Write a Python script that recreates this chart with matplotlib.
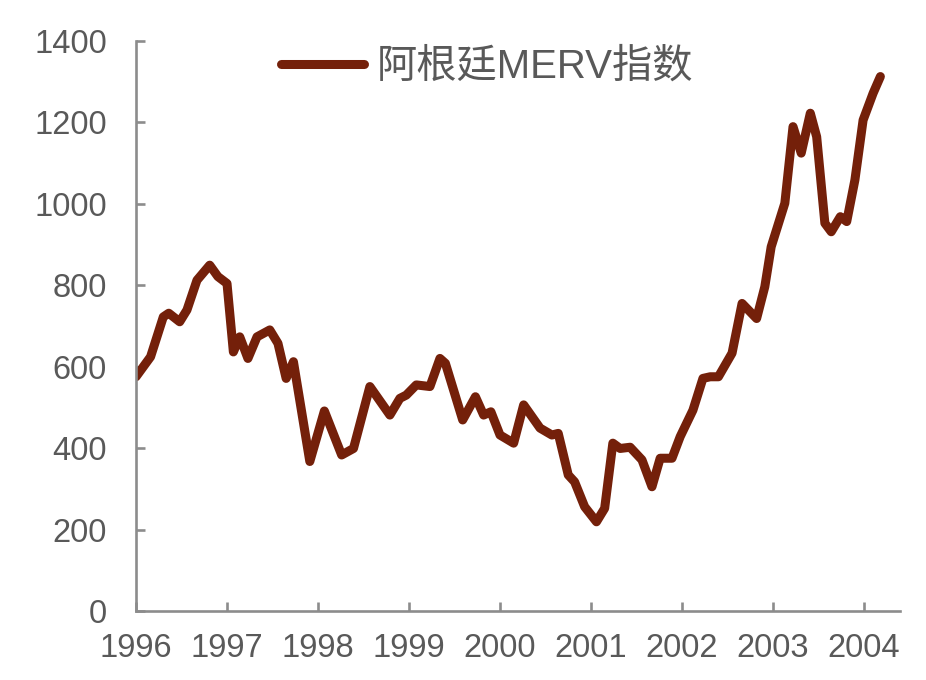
import matplotlib
matplotlib.use("Agg")
import matplotlib.pyplot as plt

# Approximate dates (fractional year) and MERV index values
dates = [1996.00, 1996.16, 1996.30, 1996.36, 1996.48, 1996.56, 1996.67, 1996.81, 1996.90, 1997.00,
         1997.07, 1997.14, 1997.23, 1997.33, 1997.47, 1997.56, 1997.65, 1997.73, 1997.91, 1998.07,
         1998.26, 1998.39, 1998.57, 1998.79, 1998.90, 1998.97, 1999.08, 1999.23, 1999.34, 1999.40,
         1999.59, 1999.73, 1999.82, 1999.90, 2000.00, 2000.15, 2000.26, 2000.44, 2000.57, 2000.64,
         2000.75, 2000.82, 2000.93, 2001.06, 2001.15, 2001.24, 2001.32, 2001.43, 2001.56, 2001.67,
         2001.76, 2001.89, 2001.98, 2002.12, 2002.23, 2002.31, 2002.40, 2002.55, 2002.66, 2002.82,
         2002.91, 2002.98, 2003.13, 2003.22, 2003.31, 2003.41, 2003.48, 2003.57, 2003.64, 2003.74,
         2003.81, 2003.90, 2003.99, 2004.10, 2004.18]
values = [575, 624, 722, 731, 710, 739, 812, 849, 821, 804,
          636, 673, 620, 673, 690, 657, 571, 612, 367, 491,
          383, 399, 551, 481, 522, 530, 555, 551, 620, 608,
          469, 526, 481, 489, 432, 412, 506, 449, 432, 436,
          334, 317, 256, 219, 252, 412, 399, 402, 371, 305,
          375, 375, 428, 493, 571, 575, 575, 633, 755, 718,
          796, 894, 1001, 1189, 1124, 1222, 1164, 952, 931, 968,
          956, 1058, 1205, 1271, 1312]

year_ticks = [1996, 1997, 1998, 1999, 2000, 2001, 2002, 2003, 2004]
y_ticks = [0, 200, 400, 600, 800, 1000, 1200, 1400]
series_name = "阿根廷MERV指数"

fam = ["Liberation Sans", "Noto Sans CJK SC", "DejaVu Sans"]
plt.rcParams["font.family"] = fam

fig = plt.figure(figsize=(9.26, 6.80), dpi=100)
ax = fig.add_axes([136/926, 1-611/680, (900-136)/926, (611-40.7)/680])

line_color = "#74200a"
axis_color = "#8c8c8c"
text_color = "#595959"

ax.plot(dates, values, color=line_color, linewidth=6.5, solid_joinstyle="round",
        solid_capstyle="round", label=series_name)

ax.set_xlim(1996, 1996 + (900-136)/91)
ax.set_ylim(0, 1400)
ax.set_xticks(year_ticks)
ax.set_xticklabels([str(y) for y in year_ticks])
ax.set_yticks(y_ticks)

for s in ["top", "right"]:
    ax.spines[s].set_visible(False)
for s in ["left", "bottom"]:
    ax.spines[s].set_color(axis_color)
    ax.spines[s].set_linewidth(1.9)

ax.tick_params(axis="both", direction="in", length=6.5, width=1.9, color=axis_color,
               labelsize=23.5, labelcolor=text_color)
ax.tick_params(axis="y", pad=21)
ax.tick_params(axis="x", pad=16)

leg = ax.legend(loc="center", bbox_to_anchor=(487/926, 1-67/680), bbox_transform=fig.transFigure,
                frameon=False, fontsize=29, handlelength=2.07, handletextpad=0.3,
                borderpad=0, borderaxespad=0)
for t in leg.get_texts():
    t.set_color(text_color)

fig.savefig("out.png", dpi=100)
